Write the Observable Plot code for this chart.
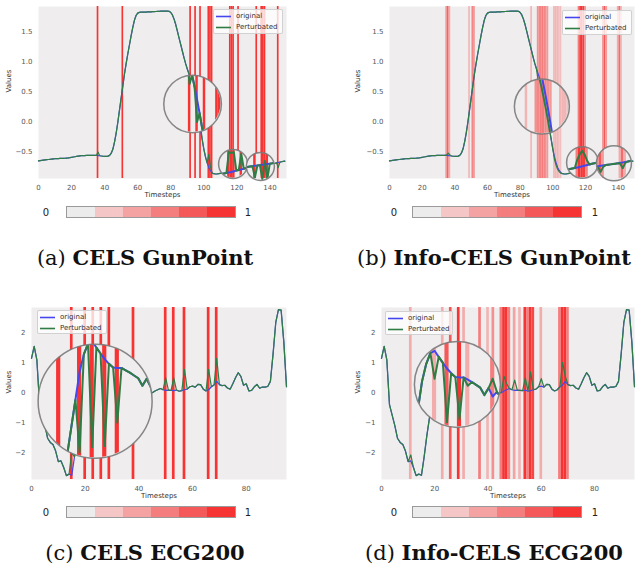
<!DOCTYPE html>
<html>
<head>
<meta charset="utf-8">
<script src="https://cdn.jsdelivr.net/npm/d3@7"></script>
<script src="https://cdn.jsdelivr.net/npm/@observablehq/plot@0.6"></script>
<style>
  html, body { margin: 0; padding: 0; background: #fff; }
  #fig { position: relative; width: 640px; height: 571px; overflow: hidden; background: #fff; }
  .panel { position: absolute; }
  .panel svg { display: block; }
  .legend { position: absolute; box-sizing: border-box; background: rgba(255,255,255,0.78); border: 1px solid rgba(204,204,204,0.9); border-radius: 2px; }
  .legend .item { position: absolute; left: 0; width: 100%; height: 9px; font: 7px "DejaVu Sans", sans-serif; color: #333; white-space: nowrap; }
  .legend svg { position: absolute; left: 2px; top: 2px; }
  .legend .lab { position: absolute; left: 22px; top: 0; line-height: 9px; }
  .cbar { position: absolute; box-sizing: border-box; border: 1px solid #9a9a9a; display: flex; }
  .cbar div { flex: 1; }
  .cbl { position: absolute; font: 10px "DejaVu Sans", sans-serif; color: #222; transform: translate(-50%, -50%); }
  .cap { position: absolute; width: 400px; text-align: center; font-family: "DejaVu Serif", serif; font-size: 21px; line-height: 22px; color: #111; white-space: nowrap; }
  .cap .lt { font-weight: normal; }
  .cap b { font-weight: bold; }
</style>
</head>
<body>
<div id="fig"></div>
<script>
// ---------------- DATA ----------------
const gunXTicks = [0, 20, 40, 60, 80, 100, 120, 140];
const gunYTicks = [-0.5, 0, 0.5, 1, 1.5];
const ecgXTicks = [0, 20, 40, 60, 80];
const ecgYTicks = [-2, -1, 0, 1, 2];

// GunPoint original series (timesteps 0..149)
const gunOriginal = [
  -0.647,-0.642,-0.638,-0.634,-0.630,-0.627,-0.624,-0.620,-0.617,-0.614,
  -0.612,-0.610,-0.608,-0.607,-0.606,-0.605,-0.603,-0.600,-0.597,-0.593,
  -0.588,-0.583,-0.578,-0.573,-0.568,-0.564,-0.561,-0.559,-0.558,-0.557,
  -0.556,-0.556,-0.555,-0.555,-0.556,-0.557,-0.559,-0.562,-0.566,-0.570,
  -0.573,-0.572,-0.568,-0.555,-0.520,-0.450,-0.330,-0.180,0.000,0.200,
  0.400,0.600,0.800,0.970,1.130,1.280,1.430,1.570,1.690,1.770,
  1.810,1.823,1.825,1.826,1.827,1.828,1.829,1.830,1.832,1.834,
  1.836,1.837,1.839,1.840,1.842,1.843,1.844,1.845,1.844,1.840,
  1.820,1.780,1.710,1.620,1.510,1.400,1.290,1.180,1.070,0.970,
  0.880,0.800,0.720,0.620,0.490,0.350,0.200,0.040,-0.130,-0.290,
  -0.450,-0.580,-0.680,-0.760,-0.810,-0.845,-0.860,-0.865,-0.865,-0.860,
  -0.855,-0.851,-0.847,-0.842,-0.837,-0.832,-0.826,-0.820,-0.813,-0.806,
  -0.799,-0.792,-0.785,-0.778,-0.772,-0.766,-0.760,-0.755,-0.750,-0.745,
  -0.741,-0.737,-0.733,-0.729,-0.725,-0.721,-0.717,-0.713,-0.709,-0.705,
  -0.700,-0.696,-0.691,-0.686,-0.680,-0.674,-0.668,-0.662,-0.656,-0.650
];

// ECG200 original series (timesteps 0..95)
const ecgOriginal = [
  1.15, 1.55, 1.10, -0.40, -0.75, -1.10, -1.52, -1.66, -1.73, -1.95,
  -2.30, -2.28, -2.50, -2.77, -2.72, -2.76, -2.15, -1.45, -0.85, -0.25,
  0.35, 0.72, 0.95, 1.00, 0.87, 0.74, 0.62, 0.52, 0.44, 0.43,
  0.43, 0.38, 0.33, 0.27, 0.21, 0.05, 0.20, 0.02, 0.12, 0.00,
  0.10, -0.05, 0.08, -0.10, 0.00, 0.00, 0.06, 0.10, 0.14, 0.10,
  0.08, 0.09, 0.08, 0.07, 0.09, 0.05, 0.07, 0.10, 0.12, 0.20,
  0.22, 0.19, 0.28, 0.27, 0.12, 0.06, 0.10, 0.20, 0.26, 0.38,
  0.27, 0.24, 0.25, 0.16, 0.12, 0.30, 0.50, 0.67, 0.55, 0.25,
  0.30, 0.06, 0.08, 0.20, 0.28, 0.15, 0.19, 0.19, 0.21, 0.38,
  1.30, 2.35, 2.78, 2.76, 1.70, 0.20
];

// (a) CELS GunPoint: saliency mask and perturbed values
const celsGunMaskT = [36, 51, 92, 95, 98, 103, 104, 105, 116, 117, 118, 121, 132, 135, 136, 137, 145];
const celsGunPertT = [36, 92, 95, 98, 103, 104, 105, 116, 117, 118, 121, 132, 135, 136, 137, 145];
const celsGunPertV = [-0.50, 0.52, 0.10, -0.05, -0.54, -0.74, -0.85, -0.60, -0.61, -0.60, -0.62, -0.86, -0.88, -0.68, -0.88, -0.76];
const celsGunMagT = [93.2, 117.7, 134.2];
const celsGunMagV = [0.30, -0.70, -0.74];
const celsGunMagSrcV = [0.30, -0.733, -0.74];

// (b) Info-CELS GunPoint
const infoGunMaskT = [35, 36, 37, 49, 51, 52, 87, 91, 92, 93, 94, 95, 96, 97, 101, 102, 103, 104, 105, 116, 117, 118, 119, 120, 131, 132, 133, 140, 141, 142];
const infoGunMaskW = [0.45, 0.75, 0.35, 0.3, 0.55, 0.5, 0.3, 0.5, 0.55, 0.6, 0.6, 0.55, 0.5, 0.45, 0.3, 0.3, 0.3, 0.25, 0.25, 0.6, 1, 1, 0.95, 0.55, 0.5, 0.8, 0.45, 0.35, 0.7, 0.35];
const infoGunPertT = [35, 36, 37, 91, 92, 93, 94, 95, 96, 97, 101, 102, 103, 104, 105, 116, 117, 118, 119, 120, 131, 132, 133, 140, 141, 142];
const infoGunPertV = [-0.548, -0.52, -0.55, 0.70, 0.60, 0.49, 0.36, 0.22, 0.07, -0.09, -0.62, -0.72, -0.79, -0.83, -0.855, -0.74, -0.68, -0.64, -0.68, -0.75, -0.755, -0.80, -0.745, -0.71, -0.76, -0.70];
const infoGunMagT = [93.3, 118.1, 137.4];
const infoGunMagV = [0.256, -0.673, -0.687];
const infoGunMagSrcV = [0.256, -0.77, -0.705];

// (c) CELS ECG200
const celsEcgMaskT = [15, 20, 23, 26, 29, 38, 50, 53, 57, 66, 69];
const celsEcgPertT = [15, 20, 23, 26, 29, 38, 50, 53, 57, 66, 69];
const celsEcgPertV = [-2.0, -1.38, -1.27, -1.24, -0.74, -0.40, 0.50, 0.50, 0.78, 0.78, 1.15];
const celsEcgMagT = [23.7];
const celsEcgMagV = [-0.28];

// (d) Info-CELS ECG200
const infoEcgMaskT = [11, 23, 26, 29, 31, 37, 40, 42, 45, 46, 47, 48, 50, 52, 54, 55, 56, 57, 60, 67, 68, 69, 70];
const infoEcgMaskW = [0.35, 0.35, 0.8, 1, 0.35, 0.6, 0.3, 0.5, 0.6, 1, 1, 0.6, 0.4, 0.3, 1, 0.6, 1, 0.9, 0.35, 0.6, 1, 1, 0.6];
const infoEcgPertT = [11, 23, 26, 29, 31, 37, 40, 42, 46, 47, 50, 54, 56, 60, 68, 69];
const infoEcgPertV = [-2.08, 0.40, -0.53, -0.46, 0.25, 0.40, 0.25, 0.20, 0.55, 0.30, 0.42, 0.50, 0.70, 0.47, 1.02, 0.55];
const infoEcgMagT = [28.5];
const infoEcgMagV = [0.28];

const legendLabels = ["original", "Perturbated"];
const colorbarLabels = ["0", "1"];
const colorbarColors = ["#ececec", "#f4c6c6", "#f4a2a2", "#f47d7d", "#f55858", "#f63434"];
const captionLetters = ["(a)", "(b)", "(c)", "(d)"];
const captionTitles = ["CELS GunPoint", "Info-CELS GunPoint", "CELS ECG200", "Info-CELS ECG200"];

// ---------------- STYLE / LAYOUT ----------------
const BG = "#efeded";
const RED = "#f73333";
const BLUE = "#4646ef";
const GREEN = "#2f7d45";

const panels = [
  { data: {original: gunOriginal, pertT: celsGunPertT, pertV: celsGunPertV, maskT: celsGunMaskT, maskW: null,
           magT: celsGunMagT, magV: celsGunMagV, magSrcV: celsGunMagSrcV, xTicks: gunXTicks, yTicks: gunYTicks},
    layout: {id: "a", left: 0, top: 0, width: 300, height: 202, mL: 38, mR: 14, mT: 6, mB: 24,
             xDomain: [0, 150], yDomain: [-0.94, 1.92], yFmt: ".1f", zoom: 1.5, magR: [28.8, 14.5, 14],
             yLabelDx: -30, xLabelDy: 18.5,
             legend: {left: 213, top: 9, width: 70, height: 25},
             cbar: {left: 66, top: 206, width: 170, height: 12, l0: 46, l1: 248, ly: 212},
             cap: {cx: 145, cy: 258}} },
  { data: {original: gunOriginal, pertT: infoGunPertT, pertV: infoGunPertV, maskT: infoGunMaskT, maskW: infoGunMaskW,
           magT: infoGunMagT, magV: infoGunMagV, magSrcV: infoGunMagSrcV, xTicks: gunXTicks, yTicks: gunYTicks},
    layout: {id: "b", left: 320, top: 0, width: 320, height: 202, mL: 69, mR: 6, mT: 6, mB: 24,
             xDomain: [0, 150], yDomain: [-0.94, 1.92], yFmt: ".1f", zoom: 1.5, magR: [27.5, 15.8, 17.5],
             yLabelDx: -32, xLabelDy: 18.5,
             legend: {left: 562, top: 10, width: 70, height: 25},
             cbar: {left: 412, top: 206, width: 170, height: 12, l0: 394, l1: 595, ly: 212},
             cap: {cx: 494, cy: 258}} },
  { data: {original: ecgOriginal, pertT: celsEcgPertT, pertV: celsEcgPertV, maskT: celsEcgMaskT, maskW: null,
           magT: celsEcgMagT, magV: celsEcgMagV, magSrcV: null, xTicks: ecgXTicks, yTicks: ecgYTicks},
    layout: {id: "c", left: 0, top: 300, width: 300, height: 203, mL: 31, mR: 14, mT: 7, mB: 24,
             xDomain: [0, 95], yDomain: [-2.9, 2.85], yFmt: "d", zoom: 1.56, magR: [57],
             yLabelDx: -23, xLabelDy: 18.5,
             legend: {left: 37, top: 310, width: 70, height: 24},
             cbar: {left: 66, top: 506, width: 170, height: 12, l0: 46, l1: 248, ly: 512},
             cap: {cx: 145, cy: 553}} },
  { data: {original: ecgOriginal, pertT: infoEcgPertT, pertV: infoEcgPertV, maskT: infoEcgMaskT, maskW: infoEcgMaskW,
           magT: infoEcgMagT, magV: infoEcgMagV, magSrcV: null, xTicks: ecgXTicks, yTicks: ecgYTicks},
    layout: {id: "d", left: 320, top: 300, width: 320, height: 203, mL: 61, mR: 6, mT: 7, mB: 24,
             xDomain: [0, 95], yDomain: [-2.9, 2.85], yFmt: "d", zoom: 1.56, magR: [43],
             yLabelDx: -24, xLabelDy: 18.5,
             legend: {left: 385, top: 311, width: 68, height: 24},
             cbar: {left: 412, top: 506, width: 170, height: 12, l0: 394, l1: 595, ly: 512},
             cap: {cx: 494, cy: 553}} }
];

// ---------------- DRAWING ----------------
function buildPanel(d, L) {
  const orig = d.original.map((v, t) => ({t, v}));
  const over = new Map(d.pertT.map((t, i) => [t, d.pertV[i]]));
  const pert = d.original.map((v, t) => ({t, v: over.has(t) ? over.get(t) : v}));
  const mask = d.maskT.map((t, i) => ({t, w: d.maskW ? d.maskW[i] : 1}));
  const mags = d.magT.map((t, i) => ({t, v: d.magV[i], sv: d.magSrcV ? d.magSrcV[i] : d.magV[i]}));

  const marks = [
    Plot.frame({fill: BG, stroke: "none"}),
    Plot.rect(mask, {x1: m => m.t - 0.5, x2: m => m.t + 0.5, fill: "w"}),
    Plot.line(orig, {x: "t", y: "v", stroke: BLUE, strokeWidth: 1.2}),
    Plot.line(pert, {x: "t", y: "v", stroke: GREEN, strokeWidth: 1.2})
  ];
  mags.forEach((m, i) => {
    const k = L.zoom, r = L.magR[i], tag = "mag" + i;
    const fx = t => m.t + k * (t - m.t);
    const fy = v => m.v + k * (v - m.sv);
    marks.push(
      Plot.dot([m], {x: "t", y: "v", r, fill: BG}),
      Plot.rect(mask, {x1: c => fx(c.t - 0.5), x2: c => fx(c.t + 0.5), fill: "w", ariaDescription: tag}),
      Plot.line(orig, {x: p => fx(p.t), y: p => fy(p.v), stroke: BLUE, strokeWidth: 2, ariaDescription: tag}),
      Plot.line(pert, {x: p => fx(p.t), y: p => fy(p.v), stroke: GREEN, strokeWidth: 2, ariaDescription: tag}),
      Plot.dot([m], {x: "t", y: "v", r, fill: "none", stroke: "#7a7a7a", strokeWidth: 1.5, strokeOpacity: 0.9})
    );
  });
  marks.push(
    Plot.text(["Timesteps"], {text: s => s, frameAnchor: "bottom", dy: L.xLabelDy, fill: "#333", fontSize: 7}),
    Plot.text(["Values"], {text: s => s, frameAnchor: "left", dx: L.yLabelDx, rotate: -90, fill: "#333", fontSize: 7})
  );

  const svg = Plot.plot({
    width: L.width, height: L.height,
    marginLeft: L.mL, marginRight: L.mR, marginTop: L.mT, marginBottom: L.mB,
    style: {fontFamily: "DejaVu Sans, sans-serif", fontSize: "7px", color: "#555", background: "transparent", overflow: "visible"},
    x: {domain: L.xDomain, ticks: d.xTicks, tickSize: 0, tickPadding: 7, label: null, tickFormat: "d"},
    y: {domain: L.yDomain, ticks: d.yTicks, tickSize: 0, tickPadding: 6, label: null, tickFormat: d3.format(L.yFmt)},
    color: {type: "linear", domain: [0, 1], range: [BG, RED], interpolate: "rgb"},
    marks
  });

  // clip magnified content to its lens circle
  const xs = svg.scale("x"), ys = svg.scale("y");
  const ax = xs.apply ? (v => xs.apply(v)) : d3.scaleLinear(xs.domain, xs.range);
  const ay = ys.apply ? (v => ys.apply(v)) : d3.scaleLinear(ys.domain, ys.range);
  const ns = "http://www.w3.org/2000/svg";
  const defs = document.createElementNS(ns, "defs");
  svg.insertBefore(defs, svg.firstChild);
  mags.forEach((m, i) => {
    const id = `clip-${L.id}-${i}`;
    const cp = document.createElementNS(ns, "clipPath");
    cp.setAttribute("id", id);
    const c = document.createElementNS(ns, "circle");
    c.setAttribute("cx", ax(m.t));
    c.setAttribute("cy", ay(m.v));
    c.setAttribute("r", L.magR[i] - 0.4);
    cp.appendChild(c);
    defs.appendChild(cp);
    svg.querySelectorAll(`[aria-description="mag${i}"]`).forEach(g => g.setAttribute("clip-path", `url(#${id})`));
  });
  return svg;
}

const fig = document.getElementById("fig");
const ns = "http://www.w3.org/2000/svg";
panels.forEach((P, idx) => {
  const L = P.layout;
  const wrap = document.createElement("div");
  wrap.className = "panel";
  wrap.style.left = L.left + "px";
  wrap.style.top = L.top + "px";
  wrap.style.width = L.width + "px";
  wrap.appendChild(buildPanel(P.data, L));
  fig.appendChild(wrap);

  // legend
  const lg = document.createElement("div");
  lg.className = "legend";
  Object.assign(lg.style, {left: L.legend.left + "px", top: L.legend.top + "px", width: L.legend.width + "px", height: L.legend.height + "px"});
  [BLUE, GREEN].forEach((col, i) => {
    const it = document.createElement("div");
    it.className = "item";
    it.style.top = (1.5 + i * 11) + "px";
    const sw = document.createElementNS(ns, "svg");
    sw.setAttribute("width", "16"); sw.setAttribute("height", "5");
    const ln = document.createElementNS(ns, "line");
    ln.setAttribute("x1", "0"); ln.setAttribute("x2", "15");
    ln.setAttribute("y1", "2.5"); ln.setAttribute("y2", "2.5");
    ln.setAttribute("stroke", col); ln.setAttribute("stroke-width", "1.6");
    sw.appendChild(ln);
    const lb = document.createElement("div");
    lb.className = "lab";
    lb.textContent = legendLabels[i];
    it.appendChild(sw); it.appendChild(lb);
    lg.appendChild(it);
  });
  fig.appendChild(lg);

  // colorbar
  const cb = document.createElement("div");
  cb.className = "cbar";
  Object.assign(cb.style, {left: L.cbar.left + "px", top: L.cbar.top + "px", width: L.cbar.width + "px", height: L.cbar.height + "px"});
  colorbarColors.forEach(c => { const s = document.createElement("div"); s.style.background = c; cb.appendChild(s); });
  fig.appendChild(cb);
  [L.cbar.l0, L.cbar.l1].forEach((x, i) => {
    const t = document.createElement("div");
    t.className = "cbl";
    t.style.left = x + "px";
    t.style.top = L.cbar.ly + "px";
    t.textContent = colorbarLabels[i];
    fig.appendChild(t);
  });

  // caption
  const cap = document.createElement("div");
  cap.className = "cap";
  cap.style.left = (L.cap.cx - 200) + "px";
  cap.style.top = (L.cap.cy - 11) + "px";
  const lt = document.createElement("span"); lt.className = "lt"; lt.textContent = captionLetters[idx] + " ";
  const b = document.createElement("b"); b.textContent = captionTitles[idx];
  cap.appendChild(lt); cap.appendChild(b);
  fig.appendChild(cap);
});
</script>
</body>
</html>
